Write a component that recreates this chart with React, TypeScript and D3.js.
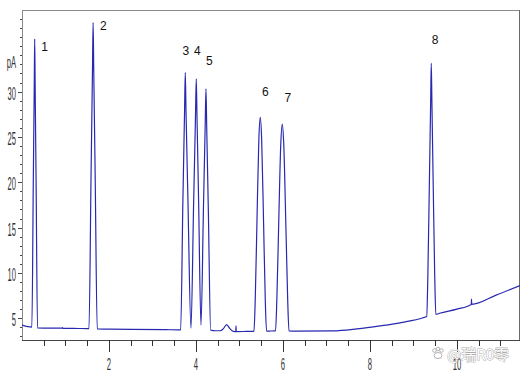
import React from 'react';
import * as d3 from 'd3';

// ---- data (time in min, signal in pA) ----
const timeDomain: [number, number] = [0, 11.45];
const signalDomain: [number, number] = [2.6, 39.0];
const xMajorTicks = [2, 4, 6, 8, 10];
const xMinorTicks = [0.5, 1, 1.5, 2.5, 3, 3.5, 4.5, 5, 5.5, 6.5, 7, 7.5, 8.5, 9, 9.5, 10.5, 11];
const yMajorTicks = [5, 10, 15, 20, 25, 30];
const yMinorTicks = [3, 4, 6, 7, 8, 9, 11, 12, 13, 14, 16, 17, 18, 19, 21, 22, 23, 24, 26, 27, 28, 29, 31, 32, 33, 34, 35, 36, 37, 38];
const yUnit = 'pA';

const baseStart: [number, number][] = [[0.0, 4.25], [0.1, 4.1], [0.18, 4.04]];
const peak1: [number, number][] = [[0.227, 4.03], [0.2595, 19.9], [0.2823, 31.0], [0.292, 35.8], [0.3017, 30.9], [0.3245, 19.85], [0.357, 3.93]];
const base12: [number, number][] = [[0.5, 3.91], [0.92, 3.9], [0.93, 3.98], [0.94, 3.89], [1.3, 3.87], [1.5, 3.86]];
const peak2: [number, number][] = [[1.54, 3.86], [1.5875, 20.7], [1.6208, 32.5], [1.635, 37.6], [1.6492, 32.5], [1.6825, 20.7], [1.73, 3.82]];
const base23: [number, number][] = [[1.9, 3.8], [2.5, 3.78], [3.3, 3.74], [3.6, 3.72]];
const peaks345: [number, number][] = [
  [3.648, 3.72], [3.699, 17.9], [3.7375, 27.8], [3.754, 32.1], [3.7705, 27.9], [3.8155, 18.0], [3.885, 3.9],
  [3.946, 17.65], [3.989, 27.3], [4.007, 31.4], [4.023, 27.4], [4.061, 17.8], [4.115, 4.26],
  [4.1725, 17.3], [4.2125, 26.4], [4.23, 30.3], [4.246, 26.3], [4.284, 17.0], [4.338, 3.68],
];
const base56: [number, number][] = [[4.45, 3.62], [4.56, 3.62], [4.63, 3.85], [4.705, 4.3], [4.78, 3.85], [4.86, 3.55], [4.915, 3.53], [4.92, 4.15], [4.925, 3.53], [5.1, 3.54], [5.3, 3.56]];
const peak6: [number, number][] = [[5.333, 3.58], [5.363, 7.1], [5.401, 15.4], [5.446, 24.8], [5.478, 27.16], [5.51, 24.8], [5.555, 15.4], [5.593, 7.1], [5.623, 3.58]];
const base67: [number, number][] = [[5.72, 3.59], [5.8, 3.6]];
const peak7: [number, number][] = [[5.829, 3.6], [5.859, 7.0], [5.9, 15.0], [5.949, 24.1], [5.984, 26.42], [6.019, 24.1], [6.068, 15.0], [6.109, 7.0], [6.139, 3.6]];
const base78: [number, number][] = [[6.3, 3.58], [7.15, 3.6], [7.7, 3.82], [8.23, 4.15], [8.75, 4.55], [9.22, 5.06]];
const peak8: [number, number][] = [[9.305, 5.2], [9.33, 9.3], [9.364, 19.2], [9.396, 28.9], [9.41, 33.12], [9.424, 29.0], [9.456, 19.3], [9.49, 9.5], [9.515, 5.42]];
const baseEnd: [number, number][] = [[9.6, 5.55], [10.0, 6.0], [10.33, 6.52], [10.335, 7.1], [10.34, 6.54], [10.9, 7.55], [11.45, 8.6]];

const peakNames = ['1', '2', '3', '4', '5', '6', '7', '8'];
const peakLabelT = [0.517, 1.869, 3.766, 4.034, 4.31, 5.593, 6.115, 9.499];
const peakLabelV = [34.53, 36.8, 34.04, 34.04, 32.94, 29.55, 28.82, 35.22];

const trace = [
  ...baseStart, ...peak1, ...base12, ...peak2, ...base23, ...peaks345,
  ...base56, ...peak6, ...base67, ...peak7, ...base78, ...peak8, ...baseEnd,
];

export default function App() {
  const W = 521, H = 373;
  const left = 22, right = 520, top = 10, bottom = 340;
  const x = d3.scaleLinear().domain(timeDomain).range([left, right]);
  const y = d3.scaleLinear().domain(signalDomain).range([bottom, top]);
  const line = d3.line<[number, number]>()
    .x(d => x(d[0]))
    .y(d => y(d[1]))
    .curve(d3.curveMonotoneX);
  const axisFont = '"Liberation Sans", Arial, sans-serif';

  return (
    <svg width={W} height={H} style={{ position: 'absolute', left: 0, top: 0, background: '#fff' }}>
      <defs>
        <clipPath id="plotClip">
          <rect x={left} y={top} width={right - left} height={bottom - top} />
        </clipPath>
      </defs>
      <rect x={0} y={0} width={W} height={H} fill="#fff" />
      {/* frame */}
      <line x1={left} y1={top + 0.5} x2={right} y2={top + 0.5} stroke="#8a8a8a" strokeWidth={1} />
      <line x1={left + 0.5} y1={top} x2={left + 0.5} y2={bottom} stroke="#8a8a8a" strokeWidth={1} />
      <line x1={right - 0.5} y1={top} x2={right - 0.5} y2={bottom} stroke="#6a6a6a" strokeWidth={1} />
      <line x1={left} y1={bottom + 0.5} x2={right} y2={bottom + 0.5} stroke="#444" strokeWidth={1} />

      {/* x ticks */}
      {xMinorTicks.map(t => (
        <line key={'xm' + t} x1={Math.round(x(t)) + 0.5} x2={Math.round(x(t)) + 0.5} y1={bottom} y2={bottom + 6} stroke="#333" strokeWidth={1} />
      ))}
      {xMajorTicks.map(t => (
        <g key={'xM' + t}>
          <line x1={Math.round(x(t)) + 0.5} x2={Math.round(x(t)) + 0.5} y1={bottom} y2={bottom + 12} stroke="#333" strokeWidth={1} />
          <g transform={`translate(${x(t)},369.5) scale(0.45,1)`}>
            <text textAnchor="middle" fontFamily={axisFont} fontSize={17} fill="#333">{t}</text>
          </g>
        </g>
      ))}

      {/* y ticks */}
      {yMinorTicks.map(v => (
        <line key={'ym' + v} x1={left - 2} x2={left} y1={Math.round(y(v)) + 0.5} y2={Math.round(y(v)) + 0.5} stroke="#444" strokeWidth={1} />
      ))}
      {yMajorTicks.map(v => (
        <g key={'yM' + v}>
          <line x1={left - 4} x2={left} y1={Math.round(y(v)) + 0.5} y2={Math.round(y(v)) + 0.5} stroke="#444" strokeWidth={1} />
          <g transform={`translate(16,${y(v) + 8}) scale(0.42,1)`}>
            <text textAnchor="end" fontFamily={axisFont} fontSize={18} fill="#333">{v}</text>
          </g>
        </g>
      ))}
      <g transform={`translate(16,${y(32.55)}) scale(0.45,1)`}>
        <text textAnchor="end" fontFamily={axisFont} fontSize={17} fill="#333">{yUnit}</text>
      </g>

      {/* trace */}
      <path d={line(trace) ?? ''} fill="none" stroke="#2828b0" strokeWidth={1.2} strokeLinejoin="round" clipPath="url(#plotClip)" />

      {/* peak labels */}
      {peakNames.map((n, i) => (
        <text key={'pl' + n} x={x(peakLabelT[i])} y={y(peakLabelV[i])} textAnchor="middle"
          fontFamily={axisFont} fontSize={12} fill="#111">{n}</text>
      ))}

      {/* watermark */}
      <g opacity={0.85}>
        <g transform="translate(438,354)" fill="#fff" stroke="#9c9c9c" strokeWidth={0.9}>
          <circle cx={-3.5} cy={-3.5} r={1.8} />
          <circle cx={0} cy={-5} r={1.8} />
          <circle cx={3.5} cy={-3.5} r={1.8} />
          <ellipse cx={0} cy={1.5} rx={4} ry={3} />
        </g>
        <text x={447} y={360} fontFamily={'"Noto Sans CJK SC", "Noto Sans", sans-serif'} fontSize={15}
          fill="#fff" stroke="#9c9c9c" strokeWidth={0.9} paintOrder="stroke">@瑞R0零</text>
      </g>
    </svg>
  );
}
